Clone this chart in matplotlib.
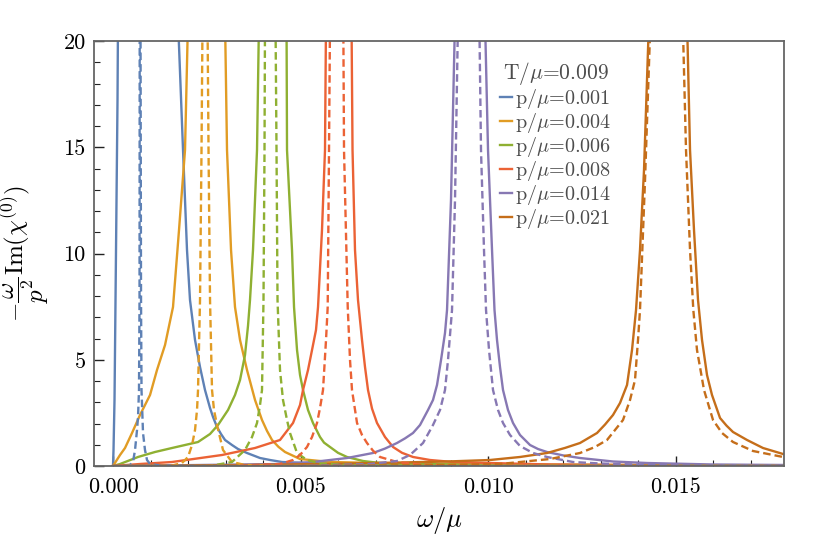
import matplotlib
matplotlib.use('Agg')
import matplotlib.pyplot as plt
from matplotlib.ticker import MultipleLocator, FormatStrFormatter

# Data (omega/mu, -omega/p^2 Im chi0); values above 20 are clipped
temperature = '0.009'
momenta = ['0.001', '0.004', '0.006', '0.008', '0.014', '0.021']
colors = ['#5E81B5', '#E19C24', '#8FB032', '#EB6235', '#8778B3', '#C56E1A']

solid_x = [
    [0, 0.0000133, 0.00004, 0.0000667, 0.0000933, 0.00012, 0.000133, 0.001733, 0.001867, 0.001973,
     0.002053, 0.002187, 0.00232, 0.002453, 0.002587, 0.002667, 0.002773, 0.00288, 0.002987, 0.003173,
     0.003333, 0.003573, 0.00392, 0.004187, 0.004507, 0.00552, 0.007653, 0.01032, 0.018],
    [0, 0.000187, 0.00032, 0.000507, 0.00072, 0.000987, 0.001173, 0.001387, 0.0016, 0.00176, 0.00192, 0.002,
     0.002987, 0.00304, 0.003147, 0.003253, 0.003387, 0.003573, 0.003787, 0.003973, 0.004107, 0.00424,
     0.004413, 0.004587, 0.004987, 0.005787, 0.007653, 0.01032, 0.018],
    [0, 0.000187, 0.000667, 0.00112, 0.001573, 0.002267, 0.002587, 0.0028, 0.003067, 0.003253, 0.003387,
     0.00352, 0.0036, 0.003653, 0.003733, 0.00384, 0.003893,
     0.004627, 0.00464, 0.004773, 0.004827, 0.004907, 0.004987, 0.005067, 0.0052, 0.005333, 0.00552,
     0.005627, 0.005787, 0.006, 0.00624, 0.006667, 0.00712, 0.008987, 0.012987, 0.018],
    [0, 0.00072, 0.001573, 0.002907, 0.003787, 0.004453, 0.0048, 0.004987, 0.005067, 0.0052, 0.005307,
     0.005413, 0.005467, 0.005573, 0.005653, 0.00568,
     0.00636, 0.006387, 0.006453, 0.006533, 0.00664, 0.00672, 0.0068, 0.006907, 0.00704, 0.007253,
     0.007467, 0.007707, 0.008, 0.008453, 0.009067, 0.010053, 0.011653, 0.01432, 0.018],
    [0, 0.00232, 0.004453, 0.005333, 0.00624, 0.006933, 0.007253, 0.007573, 0.007787, 0.008, 0.008187,
     0.0084, 0.008533, 0.00864, 0.008747, 0.008853, 0.008907, 0.009013, 0.00912,
     0.00992, 0.01, 0.010107, 0.010173, 0.01024, 0.01032, 0.0104, 0.010533, 0.010667, 0.010853, 0.01112,
     0.011333, 0.011573, 0.012, 0.012453, 0.013333, 0.01424, 0.016, 0.018],
    [0, 0.003653, 0.00632, 0.007653, 0.008907, 0.010053, 0.010853, 0.011573, 0.012053, 0.012453, 0.012907,
     0.01312, 0.013333, 0.01352, 0.013707, 0.01384, 0.013947, 0.014053, 0.01416, 0.014293,
     0.015307, 0.015387, 0.015493, 0.0156, 0.015707, 0.01584, 0.015973, 0.016187, 0.01636, 0.016533,
     0.016907, 0.017333, 0.017867, 0.018],
]
solid_y = [
    [0, 0.753, 3.106, 7.812, 12.518, 17.224, 21, 21, 14.871, 10.165, 7.812, 5.929, 4.659, 3.576, 2.729,
     2.306, 1.835, 1.506, 1.224, 0.988, 0.8, 0.612, 0.376, 0.282, 0.188, 0.118, 0.071, 0.047, 0.024],
    [0, 0.518, 0.847, 1.553, 2.4, 3.341, 4.518, 5.694, 7.482, 11.106, 14.871, 21,
     21, 14.871, 10.165, 7.482, 5.929, 4.518, 3.106, 2.165, 1.65, 1.224, 0.9, 0.659, 0.329, 0.188, 0.118,
     0.071, 0.024],
    [0, 0.094, 0.424, 0.659, 0.847, 1.129, 1.506, 1.929, 2.635, 3.341, 4.047, 5.224, 6.6, 7.812, 10.165,
     14.871, 21,
     21, 14.871, 10.165, 7.482, 5.459, 4.282, 3.576, 2.635, 2.024, 1.365, 1.1, 0.894, 0.62, 0.424, 0.235,
     0.141, 0.071, 0.038, 0.024],
    [0, 0.094, 0.188, 0.518, 0.847, 1.224, 2.024, 2.871, 3.576, 4.518, 5.459, 6.4, 7.482, 11.106, 14.871, 21,
     21, 14.871, 10.165, 7.812, 5.929, 4.659, 3.576, 2.7, 2.024, 1.365, 0.894, 0.62, 0.424, 0.282, 0.188,
     0.141, 0.071, 0.038, 0.024],
    [0, 0.047, 0.094, 0.188, 0.376, 0.612, 0.82, 1.082, 1.3, 1.553, 1.929, 2.635, 3.106, 3.812, 4.988,
     6.259, 7.341, 12.518, 21,
     21, 14.871, 10.165, 7.341, 5.929, 4.659, 3.576, 2.635, 2.024, 1.459, 0.988, 0.8, 0.659, 0.5, 0.376,
     0.212, 0.141, 0.071, 0.047],
    [0, 0.047, 0.118, 0.165, 0.212, 0.282, 0.424, 0.612, 0.85, 1.082, 1.553, 1.95, 2.4, 2.965, 3.812,
     5.459, 7.341, 10.165, 13.929, 21,
     21, 14.871, 11.106, 7.812, 5.929, 4.282, 3.341, 2.259, 1.9, 1.6, 1.224, 0.847, 0.565, 0.518],
]

dashed_x = [
    [0, 0.00032, 0.000453, 0.000533, 0.000587, 0.00064, 0.000667, 0.000693, 0.000707, 0.000712, 0.000733,
     0.000747, 0.00076, 0.0008, 0.000853, 0.000907, 0.000987, 0.001253, 0.00232, 0.018],
    [0, 0.00152, 0.00184, 0.002, 0.002107, 0.002187, 0.00224, 0.002267, 0.00232, 0.00236, 0.002387,
     0.00252, 0.002547, 0.002587, 0.00264, 0.002693, 0.002773, 0.002933, 0.003173, 0.00352, 0.004453, 0.018],
    [0, 0.002587, 0.003173, 0.00352, 0.003707, 0.00384, 0.00392, 0.003973, 0.004013, 0.00404, 0.004053,
     0.004333, 0.00436, 0.004387, 0.004453, 0.004533, 0.00464, 0.00472, 0.004907, 0.005173, 0.00552,
     0.00632, 0.007653, 0.018],
    [0, 0.00312, 0.004453, 0.0048, 0.004987, 0.005173, 0.005307, 0.00544, 0.00552, 0.0056, 0.00568,
     0.005725, 0.00576, 0.005787,
     0.006141, 0.00616, 0.006259, 0.00632, 0.006373, 0.006507, 0.00664, 0.006773, 0.006933, 0.00712,
     0.007573, 0.008187, 0.009253, 0.011653, 0.018],
    [0, 0.004987, 0.006853, 0.007573, 0.00792, 0.008267, 0.008533, 0.00872, 0.008853, 0.008933, 0.00904,
     0.00912, 0.0092,
     0.009768, 0.009813, 0.009893, 0.009947, 0.010027, 0.010133, 0.010267, 0.0104, 0.010587, 0.010853,
     0.0112, 0.011573, 0.012267, 0.012987, 0.01432, 0.016187, 0.018],
    [0, 0.004987, 0.008987, 0.01032, 0.01112, 0.011653, 0.012453, 0.012853, 0.013173, 0.013387, 0.0136,
     0.013787, 0.01392, 0.014, 0.014053, 0.014187, 0.014333,
     0.015192, 0.01528, 0.015387, 0.015475, 0.015573, 0.015653, 0.01576, 0.016, 0.01624, 0.016533,
     0.017067, 0.017867, 0.018],
]
dashed_y = [
    [0, 0, 0.047, 0.188, 0.753, 1.694, 2.306, 3.576, 7.812, 21, 21, 7.812, 3.576, 1.553, 0.753, 0.282,
     0.094, 0.024, 0, 0],
    [0, 0, 0.141, 0.424, 0.988, 1.694, 2.635, 3.576, 7.812, 14.871, 21,
     21, 14.871, 7.812, 3.576, 2.635, 1.929, 0.753, 0.188, 0.047, 0, 0],
    [0, 0, 0.188, 0.753, 1.365, 2.024, 2.871, 3.576, 7.812, 14.871, 21,
     21, 14.871, 7.812, 4.518, 3.106, 2.165, 1.553, 0.612, 0.282, 0.118, 0.047, 0.024, 0],
    [0, 0, 0.094, 0.282, 0.518, 0.894, 1.365, 2.024, 2.729, 3.576, 5.929, 7.482, 14.871, 21,
     21, 14.871, 7.482, 4.988, 3.576, 2.024, 1.459, 1.082, 0.72, 0.424, 0.188, 0.071, 0.024, 0, 0],
    [0, 0, 0.094, 0.235, 0.518, 1.082, 1.929, 2.635, 3.576, 4.988, 7.341, 12.518, 21,
     21, 14.871, 10.165, 7.341, 5.459, 3.576, 2.635, 2.024, 1.459, 0.941, 0.612, 0.424, 0.188, 0.118,
     0.047, 0, 0],
    [0, 0, 0.047, 0.094, 0.235, 0.329, 0.612, 0.894, 1.224, 1.694, 2.165, 3.106, 4.047, 5.929, 7.341,
     13.459, 21,
     21, 14.871, 10.165, 7.341, 5.459, 4.659, 3.576, 2.165, 1.553, 1.129, 0.706, 0.424, 0.4],
]

# Style

plt.rcParams['font.family'] = 'serif'
plt.rcParams['font.serif'] = ['cmr10']
plt.rcParams['mathtext.fontset'] = 'cm'
plt.rcParams['axes.unicode_minus'] = False

fig = plt.figure(figsize=(8.25, 5.48), dpi=100)
ax = fig.add_axes([94 / 825, 82 / 548, 690 / 825, 425 / 548])

for i in range(len(momenta)):
    ax.plot(solid_x[i], solid_y[i], color=colors[i], lw=1.7, label=r'p/$\mu$=' + momenta[i])
for i in range(len(momenta)):
    ax.plot(dashed_x[i], dashed_y[i], color=colors[i], lw=1.7, ls=(0, (3.2, 1.7)))

ax.set_xlim(-0.000507, 0.017893)
ax.set_ylim(0, 20)

ax.xaxis.set_major_locator(MultipleLocator(0.005))
ax.xaxis.set_minor_locator(MultipleLocator(0.001))
ax.xaxis.set_major_formatter(FormatStrFormatter('%.3f'))
ax.yaxis.set_major_locator(MultipleLocator(5))
ax.yaxis.set_minor_locator(MultipleLocator(1))

ax.tick_params(which='both', direction='in', top=False, right=False, labelsize=16, color='#222222')
ax.tick_params(which='major', length=7, width=1)
ax.tick_params(which='minor', length=4, width=0.8)
ax.tick_params(axis='x', pad=8)
ax.tick_params(axis='y', pad=6)
for side in ax.spines.values():
    side.set_color('#666666')
    side.set_linewidth(1.3)

ax.set_xlabel(r'$\omega/\mu$', fontsize=19, labelpad=6)
ax.set_ylabel(r'$-\dfrac{\omega}{p^2}\mathrm{Im}(\chi^{(0)})$', fontsize=18, labelpad=8)

legend = ax.legend(loc='upper left', bbox_to_anchor=(500 / 825, 1 - 60 / 548), bbox_transform=fig.transFigure,
                   frameon=False, fontsize=14.5, title=r'T/$\mu$=' + temperature, title_fontsize=15.5,
                   handlelength=0.6, handletextpad=0.15, labelspacing=0.0, borderpad=0, borderaxespad=0)
for text in legend.get_texts():
    text.set_color('#4d4d4d')
legend.get_title().set_color('#4d4d4d')

fig.savefig('out.png', dpi=100)
